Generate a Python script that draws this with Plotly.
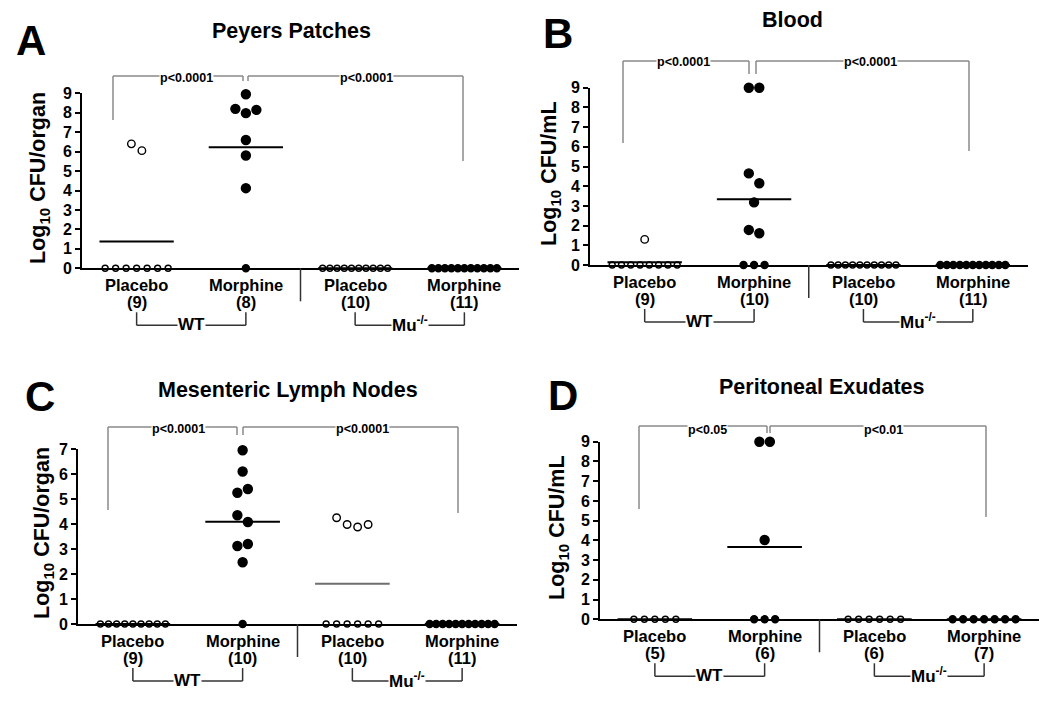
import numpy as np
import plotly.graph_objects as go

W, H = 1050, 705
FONT = "Arial, Liberation Sans, sans-serif"

# ---- data (log10 CFU) ----
group_names = ["Placebo", "Morphine", "Placebo", "Morphine"]
genotypes = ["WT", "Mu<sup>-/-</sup>"]

a_counts = [9, 8, 10, 11]
a_wt_placebo = [6.4, 6.05, 0, 0, 0, 0, 0, 0, 0]
a_wt_morphine = [8.95, 8.2, 7.98, 8.15, 6.6, 5.8, 4.12, 0]
a_mu_placebo = [0, 0, 0, 0, 0, 0, 0, 0, 0, 0]
a_mu_morphine = [0, 0, 0, 0, 0, 0, 0, 0, 0, 0, 0]

b_counts = [9, 10, 10, 11]
b_wt_placebo = [1.3, 0, 0, 0, 0, 0, 0, 0, 0]
b_wt_morphine = [9.0, 9.0, 4.65, 4.15, 3.18, 1.78, 1.61, 0, 0, 0]
b_mu_placebo = [0, 0, 0, 0, 0, 0, 0, 0, 0, 0]
b_mu_morphine = [0, 0, 0, 0, 0, 0, 0, 0, 0, 0, 0]

c_counts = [9, 10, 10, 11]
c_wt_placebo = [0, 0, 0, 0, 0, 0, 0, 0, 0]
c_wt_morphine = [6.95, 6.1, 5.25, 5.4, 4.35, 4.08, 3.12, 3.2, 2.47, 0]
c_mu_placebo = [4.25, 3.98, 3.88, 3.98, 0, 0, 0, 0, 0, 0]
c_mu_morphine = [0, 0, 0, 0, 0, 0, 0, 0, 0, 0, 0]

d_counts = [5, 6, 6, 7]
d_wt_placebo = [0, 0, 0, 0, 0]
d_wt_morphine = [9.0, 9.0, 4.02, 0, 0, 0]
d_mu_placebo = [0, 0, 0, 0, 0, 0]
d_mu_morphine = [0, 0, 0, 0, 0, 0, 0]

p_values = [["p<0.0001", "p<0.0001"], ["p<0.0001", "p<0.0001"],
            ["p<0.0001", "p<0.0001"], ["p<0.05", "p<0.01"]]

panels = [
    dict(letter="A", title="Peyers Patches", unit="CFU/organ", ymax=9,
         groups=[a_wt_placebo, a_wt_morphine, a_mu_placebo, a_mu_morphine], counts=a_counts,
         geo=(82, 519, 268.3, 93.3), letter_pos=(31, 41), title_pos=(291, 31), ytitle_pos=(40, 178),
         bracket=dict(top=76, left=(113, 120), mid=(243, 248, 81), right=(463, 161)),
         ptext=[(186, 78), (366, 78)]),
    dict(letter="B", title="Blood", unit="CFU/mL", ymax=9,
         groups=[b_wt_placebo, b_wt_morphine, b_mu_placebo, b_mu_morphine], counts=b_counts,
         geo=(590, 1027.5, 265, 87.7), letter_pos=(558, 34), title_pos=(792, 20), ytitle_pos=(550, 174),
         bracket=dict(top=61, left=(623, 143), mid=(749, 756, 74), right=(969, 151)),
         ptext=[(683, 62), (870, 62)]),
    dict(letter="C", title="Mesenteric Lymph Nodes", unit="CFU/organ", ymax=7,
         groups=[c_wt_placebo, c_wt_morphine, c_mu_placebo, c_mu_morphine], counts=c_counts,
         geo=(78, 517, 624, 449), letter_pos=(40, 396), title_pos=(288, 390), ytitle_pos=(43, 533),
         bracket=dict(top=427, left=(108, 510), mid=(237, 243, 435), right=(458, 513)),
         ptext=[(178, 429), (362, 429)], mean_colors=["black", "black", "#6e6e6e", "black"]),
    dict(letter="D", title="Peritoneal Exudates", unit="CFU/mL", ymax=9,
         groups=[d_wt_placebo, d_wt_morphine, d_mu_placebo, d_mu_morphine], counts=d_counts,
         geo=(600, 1039, 619.3, 441.7), letter_pos=(563, 395), title_pos=(822, 387), ytitle_pos=(558, 528),
         bracket=dict(top=426, left=(639, 509), mid=(767, 770, 433), right=(986, 517)),
         ptext=[(707, 430), (883, 430)]),
]


def spread(values, thr, step, max_width):
    # column-scatter style horizontal offsets for points with close values
    vals = np.asarray(values, float)
    order = np.argsort(-vals, kind="stable")
    clusters = []
    for i in order:
        if clusters and vals[clusters[-1][0]] - vals[i] < thr:
            clusters[-1].append(i)
        else:
            clusters.append([i])
    offs = np.zeros(len(vals))
    for cl in clusters:
        cl = sorted(cl)
        n = len(cl)
        s = step if n < 2 else min(step, max_width / (n - 1))
        for k, i in enumerate(cl):
            offs[i] = (k - (n - 1) / 2) * s
    return offs


def line(x0, y0, x1, y1, color="#8a8a8a", width=1.5):
    return dict(type="line", xref="paper", yref="paper",
                x0=x0 / W, y0=1 - y0 / H, x1=x1 / W, y1=1 - y1 / H,
                line=dict(color=color, width=width))


def text(x, y, s, size, bg=None, angle=0):
    d = dict(x=x / W, y=1 - y / H, xref="paper", yref="paper", text=s, showarrow=False,
             xanchor="center", yanchor="middle", textangle=angle,
             font=dict(family=FONT, size=size, color="black"))
    if bg:
        d.update(bgcolor=bg, borderpad=0)
    return d


fig = go.Figure()
shapes, annotations = [], []
layout = {}

for i, p in enumerate(panels):
    n = i + 1
    xa, ya = ("x%d" % n if n > 1 else "x"), ("y%d" % n if n > 1 else "y")
    left, right, bottom, top = p["geo"]
    unit_px = (right - left) / 4.0
    layout["xaxis%d" % n if n > 1 else "xaxis"] = dict(
        domain=[left / W, right / W], range=[0.5, 4.5], anchor=ya, automargin=False,
        showline=True, linecolor="black", linewidth=2, showgrid=False, zeroline=False,
        showticklabels=False, ticks="")
    layout["yaxis%d" % n if n > 1 else "yaxis"] = dict(
        domain=[1 - bottom / H, 1 - top / H], range=[0, p["ymax"]], anchor=xa, automargin=False,
        showline=True, linecolor="black", linewidth=2, showgrid=False, zeroline=False,
        ticks="outside", ticklen=5, tickwidth=1.5, tickcolor="black", dtick=1,
        tickfont=dict(family=FONT, size=16, color="black", weight="bold"))

    def xpx(xv):
        return left + (xv - 0.5) * unit_px

    mean_colors = p.get("mean_colors", ["black"] * 4)
    for g, vals in enumerate(p["groups"]):
        c = g + 1
        offs = spread(vals, 0.55, 10.5 / unit_px, 65 / unit_px)
        filled = g % 2 == 1
        big, small = (9, 7) if filled else (7.5, 6)
        sizes = [big if v > 0 else small for v in vals]
        fig.add_trace(go.Scatter(
            x=c + offs, y=vals, mode="markers", xaxis=xa, yaxis=ya, cliponaxis=False,
            showlegend=False,
            marker=dict(symbol="circle" if filled else "circle-open",
                        size=sizes, color="black", opacity=1,
                        line=dict(color="black", width=1.4))))
        m = float(np.mean(vals))
        fig.add_trace(go.Scatter(
            x=[c - 0.34, c + 0.34], y=[m, m], mode="lines", xaxis=xa, yaxis=ya,
            showlegend=False, line=dict(color=mean_colors[g], width=2)))

        # category labels under the axis
        annotations.append(text(xpx(c), bottom + 17, "<b>%s</b>" % group_names[g], 16.5))
        annotations.append(text(xpx(c), bottom + 34, "<b>(%d)</b>" % p["counts"][g], 16.5))

    # divider between genotypes
    shapes.append(line(xpx(2.5), bottom, xpx(2.5), bottom + 33, color="#333", width=1.5))

    # genotype brackets
    for k in range(2):
        x0, x1 = xpx(1 + 2 * k), xpx(2 + 2 * k)
        yb = bottom + 57
        shapes.append(line(x0, bottom + 44, x0, yb, color="#333"))
        shapes.append(line(x1, bottom + 44, x1, yb, color="#333"))
        shapes.append(line(x0, yb, x1, yb, color="#333"))
        annotations.append(text((x0 + x1) / 2, yb - 1, "<b>%s</b>" % genotypes[k], 17, bg="white"))

    # significance brackets
    b = p["bracket"]
    shapes.append(line(b["left"][0], b["left"][1], b["left"][0], b["top"]))
    shapes.append(line(b["left"][0], b["top"], b["mid"][0], b["top"]))
    shapes.append(line(b["mid"][0], b["top"], b["mid"][0], b["mid"][2]))
    shapes.append(line(b["mid"][1], b["mid"][2], b["mid"][1], b["top"]))
    shapes.append(line(b["mid"][1], b["top"], b["right"][0], b["top"]))
    shapes.append(line(b["right"][0], b["top"], b["right"][0], b["right"][1]))
    for (tx, ty), s in zip(p["ptext"], p_values[i]):
        annotations.append(text(tx, ty, "<b>%s</b>" % s, 12.5, bg="white"))

    # panel letter, title, y title
    annotations.append(text(*p["letter_pos"], "<b>%s</b>" % p["letter"], 42))
    annotations.append(text(*p["title_pos"], "<b>%s</b>" % p["title"], 21.5))
    annotations.append(text(*p["ytitle_pos"], "<b>Log<sub>10</sub> %s</b>" % p["unit"], 21.5, angle=-90))

fig.update_layout(
    **layout,
    width=W, height=H,
    margin=dict(l=0, r=0, t=0, b=0, autoexpand=False),
    paper_bgcolor="white", plot_bgcolor="white",
    font=dict(family=FONT, color="black"),
    shapes=shapes, annotations=annotations,
    showlegend=False,
)

fig.write_html("out.html", config={"displayModeBar": False},
               post_script="document.body.style.margin='0px';")
